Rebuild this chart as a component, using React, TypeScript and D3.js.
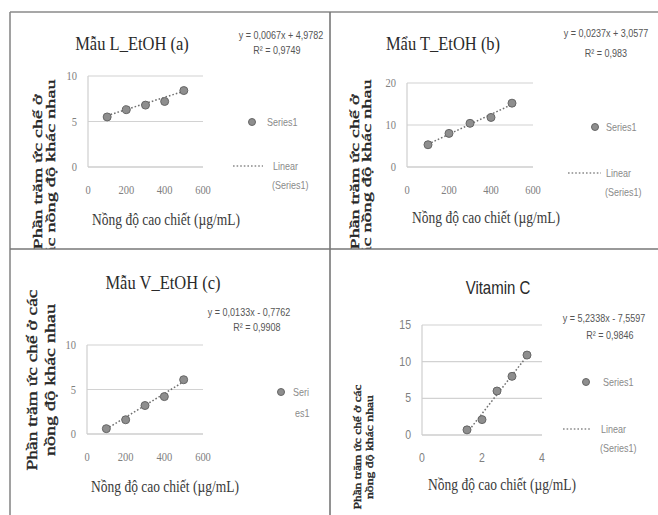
import React from 'react';
import * as d3 from 'd3';

// data
const extractConc = [100, 200, 300, 400, 500];
const inhibitionL = [5.5, 6.3, 6.8, 7.2, 8.4];
const inhibitionT = [5.3, 8.0, 10.4, 11.8, 15.2];
const inhibitionV = [0.6, 1.6, 3.2, 4.2, 6.1];
const vitCConc = [1.5, 2, 2.5, 3, 3.5];
const inhibitionVitC = [0.7, 2.1, 6.0, 8.0, 10.9];

const extractXTicks = [0, 200, 400, 600];
const vitCXTicks = [0, 2, 4];
const yTicksL = [0, 5, 10];
const yTicksT = [0, 10, 20];
const yTicksV = [0, 5, 10];
const yTicksVitC = [0, 5, 10, 15];

const trendSlopes = [0.0067, 0.0237, 0.0133, 5.2338];
const trendIntercepts = [4.9782, 3.0577, -0.7762, -7.5597];
const equationLabels = ['y = 0,0067x + 4,9782', 'y = 0,0237x + 3,0577', 'y = 0,0133x - 0,7762', 'y = 5,2338x - 7,5597'];
const r2Labels = ['R² = 0,9749', 'R² = 0,983', 'R² = 0,9908', 'R² = 0,9846'];
const titles = ['Mẫu L_EtOH (a)', 'Mẩu T_EtOH (b)', 'Mẫu V_EtOH (c)', 'Vitamin C'];
const xTitle = 'Nồng độ cao chiết (µg/mL)';

const SERIF = '"Liberation Serif", "Times New Roman", serif';
const SANS = '"Liberation Sans", Arial, sans-serif';
const S = 1.2; // the scan is stretched vertically

const panels = [
  {
    xs: extractConc, ys: inhibitionL, xTicks: extractXTicks, yTicks: yTicksL, xDom: [0, 600], yDom: [0, 10],
    plot: { l: 88, r: 203, t: 76, b: 167 }, clip: { x: 10, y: 12, w: 320, h: 237 },
    title: { x: 132, y: 50, font: SERIF, size: 16.5 },
    eq: { x: 281, y: 38.5 }, r2: { x: 277, y: 53.5 },
    legend: { mx: 252, my: 122, tx: 267, lineY: 166, lx0: 233, lx1: 263, linX: 273, wrap: false },
    xTitle: { x: 166, y: 225 }, yLab: { x1: 37, x2: 50, cy: 172, len1: 155, len2: 185, size: 13, l1: 'Phần trăm ức chế ở', l2: 'các nồng độ khác nhau' },
    tickFont: SERIF,
  },
  {
    xs: extractConc, ys: inhibitionT, xTicks: extractXTicks, yTicks: yTicksT, xDom: [0, 600], yDom: [0, 20],
    plot: { l: 407, r: 533, t: 83, b: 167 }, clip: { x: 330, y: 12, w: 328, h: 237 },
    title: { x: 443, y: 50, font: SERIF, size: 16.5 },
    eq: { x: 606, y: 36.5 }, r2: { x: 606, y: 56.5 },
    legend: { mx: 595, my: 127, tx: 606, lineY: 173, lx0: 568, lx1: 601, linX: 606, wrap: false },
    xTitle: { x: 486, y: 223 }, yLab: { x1: 355, x2: 367, cy: 172, len1: 155, len2: 185, size: 12, l1: 'Phần trăm ức chế ở', l2: 'các nồng độ khác nhau' },
    tickFont: SERIF,
  },
  {
    xs: extractConc, ys: inhibitionV, xTicks: extractXTicks, yTicks: yTicksV, xDom: [0, 600], yDom: [0, 10],
    plot: { l: 87, r: 203, t: 345, b: 434 }, clip: { x: 10, y: 249, w: 320, h: 266 },
    title: { x: 163, y: 289, font: SERIF, size: 16.5 },
    eq: { x: 249, y: 315.5 }, r2: { x: 257, y: 330.5 },
    legend: { mx: 281, my: 392, tx: 293, lineY: 0, lx0: 0, lx1: 0, linX: 0, wrap: true },
    xTitle: { x: 165, y: 492 }, yLab: { x1: 32, x2: 50, cy: 380, len1: 181, len2: 152, size: 14, l1: 'Phần trăm ức chế ở các', l2: 'nồng độ khác nhau' },
    tickFont: SERIF,
  },
  {
    xs: vitCConc, ys: inhibitionVitC, xTicks: vitCXTicks, yTicks: yTicksVitC, xDom: [0, 4], yDom: [0, 15],
    plot: { l: 422, r: 542, t: 325, b: 435 }, clip: { x: 330, y: 249, w: 328, h: 266 },
    title: { x: 498, y: 294, font: SANS, size: 15 },
    eq: { x: 604, y: 321.5 }, r2: { x: 610, y: 338.5 },
    legend: { mx: 586, my: 382, tx: 603, lineY: 429, lx0: 563, lx1: 591, linX: 601, wrap: false },
    xTitle: { x: 502, y: 490 }, yLab: { x1: 357, x2: 369, cy: 447, len1: 125, len2: 104, size: 10, l1: 'Phần trăm ức chế ở các', l2: 'nồng độ khác nhau' },
    tickFont: SANS,
  },
];

const Txt = ({ x, y, size, family, fill = '#333', anchor = 'start', weight = 'normal', children }: any) => (
  <text transform={`translate(${x},${y}) scale(1,${S})`} fontSize={size} fontFamily={family}
    fill={fill} textAnchor={anchor} fontWeight={weight}>{children}</text>
);

const Panel = ({ p, i }: any) => {
  const x = d3.scaleLinear().domain(p.xDom).range([p.plot.l, p.plot.r]);
  const y = d3.scaleLinear().domain(p.yDom).range([p.plot.b, p.plot.t]);
  const pts = p.xs.map((v: number, k: number) => [v, p.ys[k]]);
  const x0 = d3.min(p.xs) as number;
  const x1 = d3.max(p.xs) as number;
  const trend = d3.line<number>().x(v => x(v)).y(v => y(trendSlopes[i] * v + trendIntercepts[i]))([x0, x1]);
  const L = p.legend;
  const yLabStyle = {
    fontSize: p.yLab.size, fontFamily: SERIF, fill: '#262626', stroke: '#262626', strokeWidth: 0.35,
    textAnchor: 'middle', dominantBaseline: 'central', lengthAdjust: 'spacingAndGlyphs',
  } as any;
  return (
    <g clipPath={`url(#clip${i})`}>
      <clipPath id={`clip${i}`}><rect x={p.clip.x} y={p.clip.y} width={p.clip.w} height={p.clip.h} /></clipPath>
      {p.yTicks.map((t: number) => (
        <line key={t} x1={p.plot.l} x2={p.plot.r} y1={y(t)} y2={y(t)} stroke={t === 0 ? '#b5b5b5' : '#d2d2d2'} strokeWidth={1.2} />
      ))}
      <line x1={p.plot.l} x2={p.plot.l} y1={p.plot.t} y2={p.plot.b} stroke="#cfcfcf" strokeWidth={1.2} />
      {p.yTicks.map((t: number) => (
        <Txt key={t} x={p.plot.l - 11} y={y(t) + 4} size={10.5} family={p.tickFont} fill="#808080" anchor="end">{t}</Txt>
      ))}
      {p.xTicks.map((t: number) => (
        <Txt key={t} x={x(t)} y={p.plot.b + 27} size={10.5} family={p.tickFont} fill="#808080" anchor="middle">{t}</Txt>
      ))}
      <path d={trend || ''} fill="none" stroke="#707070" strokeWidth={1.5} strokeDasharray="1.6 2" />
      {pts.map((d: number[], k: number) => (
        <circle key={k} cx={x(d[0])} cy={y(d[1])} r={4} fill="#8e8e8e" stroke="#666" strokeWidth={1} />
      ))}
      <Txt x={p.title.x} y={p.title.y} size={p.title.size} family={p.title.font} fill="#2a2a2a" anchor="middle">{titles[i]}</Txt>
      <Txt x={p.eq.x} y={p.eq.y} size={9} family={SANS} fill="#555" anchor="middle">{equationLabels[i]}</Txt>
      <Txt x={p.r2.x} y={p.r2.y} size={9} family={SANS} fill="#555" anchor="middle">{r2Labels[i]}</Txt>
      <circle cx={L.mx} cy={L.my} r={3.5} fill="#8e8e8e" stroke="#666" strokeWidth={1} />
      {L.wrap ? (
        <>
          <Txt x={L.tx} y={L.my + 3.5} size={9} family={SANS} fill="#8a8a8a">Seri</Txt>
          <Txt x={L.tx + 2} y={L.my + 24.5} size={9} family={SANS} fill="#8a8a8a">es1</Txt>
        </>
      ) : (
        <>
          <Txt x={L.tx} y={L.my + 3.5} size={9} family={SANS} fill="#8a8a8a">Series1</Txt>
          <line x1={L.lx0} x2={L.lx1} y1={L.lineY} y2={L.lineY} stroke="#8a8a8a" strokeWidth={1.3} strokeDasharray="1.6 2" />
          <Txt x={L.linX} y={L.lineY + 3.5} size={9} family={SANS} fill="#8a8a8a">Linear</Txt>
          <Txt x={L.linX - 1} y={L.lineY + 23} size={9} family={SANS} fill="#8a8a8a">(Series1)</Txt>
        </>
      )}
      <Txt x={p.xTitle.x} y={p.xTitle.y} size={13.5} family={SERIF} fill="#3a3a3a" anchor="middle">{xTitle}</Txt>
      <text transform={`translate(${p.yLab.x1},${p.yLab.cy}) rotate(-90)`} {...yLabStyle}
        textLength={p.yLab.len1}>{p.yLab.l1}</text>
      <text transform={`translate(${p.yLab.x2},${p.yLab.cy}) rotate(-90)`} {...yLabStyle}
        textLength={p.yLab.len2}>{p.yLab.l2}</text>
    </g>
  );
};

export default function App() {
  return (
    <svg width={658} height={515} style={{ position: 'absolute', left: 0, top: 0, background: '#fff' }}>
      <rect width={658} height={515} fill="#fff" />
      {panels.map((p, i) => <Panel key={i} p={p} i={i} />)}
      <g stroke="#8a8a8a" strokeWidth={1.6}>
        <line x1={10} x2={658} y1={12} y2={12} />
        <line x1={10} x2={10} y1={12} y2={515} />
        <line x1={10} x2={658} y1={249} y2={249} stroke="#777" />
        <line x1={330} x2={330} y1={12} y2={515} stroke="#777" />
      </g>
    </svg>
  );
}
